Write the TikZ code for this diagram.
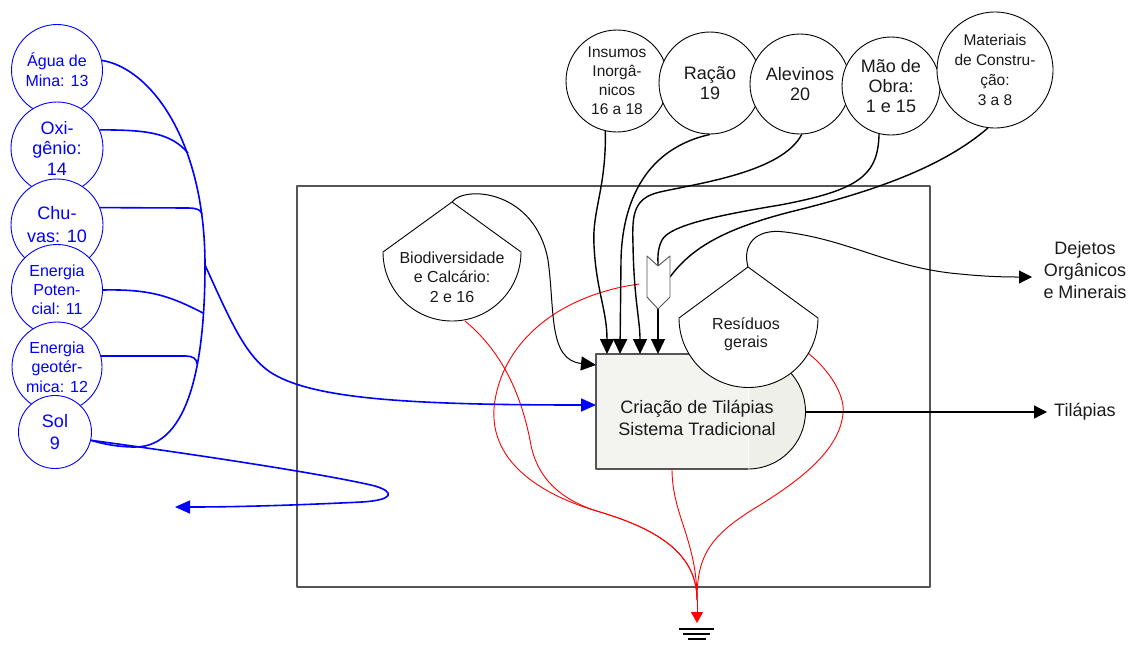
\documentclass[tikz,border=0pt]{standalone}
\usepackage{fontspec}
\setmainfont{Liberation Sans}
\usetikzlibrary{arrows.meta}
\definecolor{boxfill}{HTML}{F3F4EF}
\definecolor{boxfillb}{HTML}{EEEFE8}
\definecolor{framec}{HTML}{555555}
\definecolor{txt}{HTML}{1A1A1A}
\definecolor{bluec}{HTML}{0000FF}
\definecolor{redc}{HTML}{FF0000}
\newcommand{\fs}[2]{\fontsize{#1}{#2}\selectfont}
\begin{document}
\begin{tikzpicture}[x=1pt,y=-1pt,line join=round,
  bsrc/.style={circle, draw=bluec, fill=white, text=bluec, inner sep=0pt, align=center, line width=0.9pt},
  ksrc/.style={circle, draw=black, fill=white, text=txt, inner sep=0pt, align=center, line width=0.9pt},
  bflow/.style={draw=bluec, line width=1.6pt},
  kflow/.style={draw=black, line width=1.4pt},
  rflow/.style={draw=redc, line width=0.9pt},
  tipk/.style={-{Triangle[length=15pt,width=14pt]}},
  tipks/.style={-{Triangle[length=13pt,width=13pt]}},
  tipb/.style={-{Triangle[length=15pt,width=13pt]}},
  tank/.style={draw=black, fill=white, line width=0.9pt},
  lbl/.style={text=txt, align=center, inner sep=0pt}]
\useasboundingbox (0,0) rectangle (1129,646);

% frame
\draw[framec, line width=1.1pt] (297,186) rectangle (930,587);

% coordinates
\coordinate (b1) at (607,354);
\coordinate (b2) at (620,354);
\coordinate (b3) at (640,354);
\coordinate (b4) at (658,354);
\coordinate (bl1) at (596,365);
\coordinate (bl2) at (596,405);
\coordinate (bR) at (805,412);
\coordinate (bB) at (672,469);
\coordinate (vN) at (658,266);
\coordinate (vE) at (670,277);
\coordinate (vS) at (658,309);
\coordinate (vRed) at (639,284);
\coordinate (bioTop) at (452,202);
\coordinate (bioBot) at (465,321);
\coordinate (resTop) at (748,267);
\coordinate (resR) at (808,353);
\coordinate (gnd) at (697,600);
\coordinate (gtip) at (697,623);
\coordinate (dejIn) at (1032,277);
\coordinate (tilIn) at (1047,412);
\coordinate (j1) at (205,265);
\coordinate (soltip) at (175,507);

% main box
\path[fill=boxfill] (596,354) -- (748,354) -- (748,469) -- (596,469) -- cycle;
\path[fill=boxfillb] (748,354) .. controls (779.8,354) and (805.5,379.7) .. (805.5,411.5) .. controls (805.5,443.3) and (779.8,469) .. (748,469) -- cycle;
\draw[white, line width=0.7pt] (748,354) -- (748,469);
\draw[framec, line width=1.1pt] (748,354) -- (596,354) -- (596,469) -- (748,469);
\draw[black, line width=0.9pt] (748,354) .. controls (779.8,354) and (805.5,379.7) .. (805.5,411.5) .. controls (805.5,443.3) and (779.8,469) .. (748,469);
\node[lbl, font=\fs{18}{22}] (crea) at (697,418) {Criação de Tilápias\\Sistema Tradicional};

% red flows to ground
\draw[rflow] (vRed) .. controls (560,295) and (505,340) .. (495,400) .. controls (485,460) and (540,495) .. (600,512) .. controls (660,530) and (697,555) .. (gnd);
\draw[rflow] (bioBot) .. controls (500,350) and (520,390) .. (530,440) .. controls (537,485) and (570,503) .. (600,512) .. controls (660,530) and (697,555) .. (gnd);
\draw[rflow] (bB) .. controls (672,515) and (697,540) .. (gnd);
\draw[rflow] (resR) .. controls (835,375) and (845,400) .. (843,413) .. controls (840,450) and (800,480) .. (760,505) .. controls (710,535) and (697,555) .. (gnd);
\draw[rflow, -{Triangle[length=11pt,width=12pt]}] (gnd) -- (gtip);
\draw[black, line width=1.2pt] (679,629) -- (714,629);
\draw[black, line width=1.2pt] (683,634) -- (710,634);
\draw[black, line width=1.2pt] (688,639) -- (706,639);

% left sources (blue)
\node[bsrc, minimum size=91pt, font=\fs{16}{20}] (agua) at (57,70) {Água de\\Mina: 13};
\node[bsrc, minimum size=92pt, font=\fs{18}{20.5}] (oxi) at (57,148) {Oxi-\\gênio:\\14};
\node[bsrc, minimum size=92pt, font=\fs{18}{23}] (chuva) at (57,225) {Chu-\\vas: 10};
\node[bsrc, minimum size=91pt, font=\fs{16}{19}] (epot) at (57,290) {Energia\\Poten-\\cial: 11};
\node[bsrc, minimum size=90pt, font=\fs{16}{19.5}] (egeo) at (57,367) {Energia\\geotér-\\mica: 12};
\node[bsrc, minimum size=73pt, font=\fs{18}{22}] (sol) at (55,432) {Sol\\9};

\draw[bflow] (sol.-13) .. controls (103,444) and (118,447) .. (135,447) .. controls (190,447) and (205,360) .. (j1) .. controls (205,140) and (150,68) .. (agua.12);
\draw[bflow] (oxi.23) .. controls (145,130) and (170,132) .. (188,153);
\draw[bflow] (chuva.22) -- (188,208) .. controls (197,208) and (201,210) .. (202,214);
\draw[bflow] (epot.east) .. controls (150,289) and (170,296) .. (203,313);
\draw[bflow] (egeo.14) -- (186,356) .. controls (193,356) and (197,359) .. (197,364);
\draw[bflow, tipb] (j1) .. controls (230,320) and (245,355) .. (270,372) .. controls (310,398) and (400,405) .. (bl2);
\draw[bflow, tipb] (sol.-13) .. controls (200,455) and (330,475) .. (375,486) .. controls (395,492) and (394,500) .. (362,502) .. controls (300,505) and (240,507) .. (soltip);

% top sources (black)
\node[ksrc, minimum size=102pt, font=\fs{15.5}{19}] (ins) at (617,81) {Insumos\\Inorgâ-\\nicos\\16 a 18};
\node[ksrc, minimum size=102pt, font=\fs{18}{20}] (racao) at (710,83) {Ração\\19};
\node[ksrc, minimum size=100pt, font=\fs{18}{20}] (alev) at (800,84) {Alevinos\\20};
\node[ksrc, minimum size=98pt, font=\fs{18}{20}] (mao) at (891,86) {Mão de\\Obra:\\1 e 15};
\node[ksrc, minimum size=116pt, font=\fs{15.5}{20}] (mat) at (995,70) {Materiais\\de Constru-\\ção:\\3 a 8};

\draw[kflow, tipk] (ins.257) .. controls (606,190) and (592,210) .. (594,245) .. controls (596,290) and (607,310) .. (b1);
\draw[kflow, tipk] (racao.south) .. controls (640,150) and (622,210) .. (621,260) -- (b2);
\draw[kflow, tipk] (alev.272) .. controls (782,172) and (700,183) .. (660,192) .. controls (633,198) and (632,215) .. (633,245) .. controls (634,300) and (640,320) .. (b3);
\draw[kflow] (mao.256) .. controls (878,175) and (860,190) .. (780,205) .. controls (720,215) and (670,225) .. (662,240) .. controls (657,250) and (658,258) .. (vN);
\draw[kflow] (mat.263) .. controls (945,165) and (880,190) .. (790,212) .. controls (720,230) and (690,250) .. (vE);
\draw[kflow, tipk] (vS) -- (b4);

% valve (interaction)
\draw[draw=framec, fill=white, line width=0.9pt] (647,256) -- (vN) -- (670,256) -- (670,297) -- (vS) -- (647,297) -- cycle;

% other flows
\draw[black, line width=1pt, tipk] (bioTop) .. controls (465,185) and (535,190) .. (548,260) .. controls (555,310) and (548,360) .. (bl1);
\draw[black, line width=1pt, tipks] (resTop) .. controls (742,245) and (755,228) .. (785,232) .. controls (850,240) and (890,268) .. (960,274) .. controls (990,277) and (1010,277) .. (dejIn);
\draw[black, line width=1.2pt, tipks] (bR) -- (tilIn);

% tanks
\draw[tank] (bioTop) -- (521,252) .. controls (521,290.1) and (490.1,321) .. (452,321) .. controls (413.9,321) and (383,290.1) .. (383,252) -- cycle;
\node[lbl, font=\fs{16}{19.5}] (bio) at (452,277) {Biodiversidade\\e Calcário:\\2 e 16};
\draw[tank] (resTop) -- (818,318) .. controls (818,356.4) and (786.9,387.5) .. (748.5,387.5) .. controls (710.1,387.5) and (679,356.4) .. (679,318) -- cycle;
\node[lbl, font=\fs{16}{18}] (res) at (746,334) {Resíduos\\gerais};

% outputs
\node[lbl, font=\fs{18}{22}] (dej) at (1085,270) {Dejetos\\Orgânicos\\e Minerais};
\node[lbl, font=\fs{18}{22}, anchor=west] (til) at (1054,412) {Tilápias};
\end{tikzpicture}
\end{document}
